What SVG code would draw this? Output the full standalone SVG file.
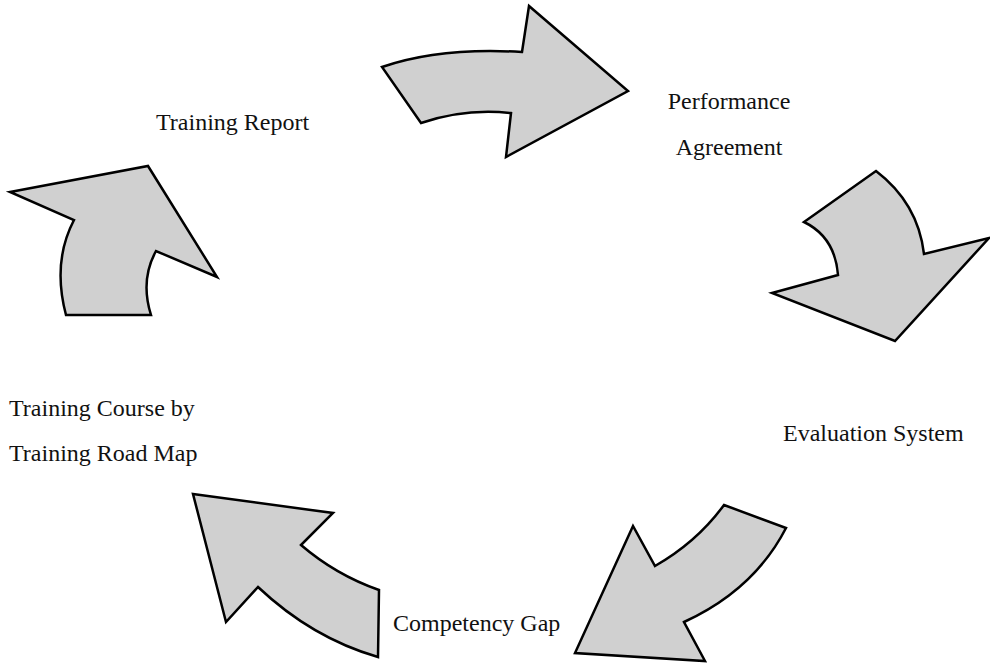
<svg xmlns="http://www.w3.org/2000/svg" width="990" height="663" viewBox="0 0 990 663">
  <style>
    .arrow { fill: #d0d0d0; stroke: #000; stroke-width: 2.5; stroke-linejoin: miter; }
    .label { font-family: "Liberation Serif", "Times New Roman", serif; font-size: 24px; fill: #111; }
  </style>
  <rect width="990" height="663" fill="#fff"/>
  <g id="connectors">
    <!-- top: Training Report -> Performance Agreement -->
    <path id="arrow-top" class="arrow" d="M382,67 Q440,47 522,52 L529,6 L628,91 L506,157 L511,113 Q465,108 421,123 Z"/>
    <!-- right: Performance Agreement -> Evaluation System -->
    <path id="arrow-right" class="arrow" d="M876,171 Q918,203 924,254 L989,238 L895,341 L772,293 L838,275 Q835,237 804,222 Z"/>
    <!-- bottom right: Evaluation System -> Competency Gap -->
    <path id="arrow-bottom-right" class="arrow" d="M724,505 L786,528 Q754,590 684,622 L705,661 L575,653 L633,526 L655,566 Q697,542 724,505 Z"/>
    <!-- bottom left: Competency Gap -> Training Course -->
    <path id="arrow-bottom-left" class="arrow" d="M193,494 L333,513 L301,545 Q336,575 379,590 L378,657 Q312,638 258,587 L226,622 Z"/>
    <!-- left: Training Course -> Training Report -->
    <path id="arrow-left" class="arrow" d="M10,192 L148,166 L217,277 L156,251 Q140,280 151,315 L66,315 Q52,262 74,220 Z"/>
  </g>
  <g id="node-training-report">
    <text class="label" x="156" y="130">Training Report</text>
  </g>
  <g id="node-performance-agreement">
    <text class="label" x="729" y="109" text-anchor="middle">Performance</text>
    <text class="label" x="729" y="155" text-anchor="middle">Agreement</text>
  </g>
  <g id="node-evaluation-system">
    <text class="label" x="783" y="441">Evaluation System</text>
  </g>
  <g id="node-competency-gap">
    <text class="label" x="393" y="631">Competency Gap</text>
  </g>
  <g id="node-training-course">
    <text class="label" x="9" y="416">Training Course by</text>
    <text class="label" x="9" y="461">Training Road Map</text>
  </g>
</svg>
